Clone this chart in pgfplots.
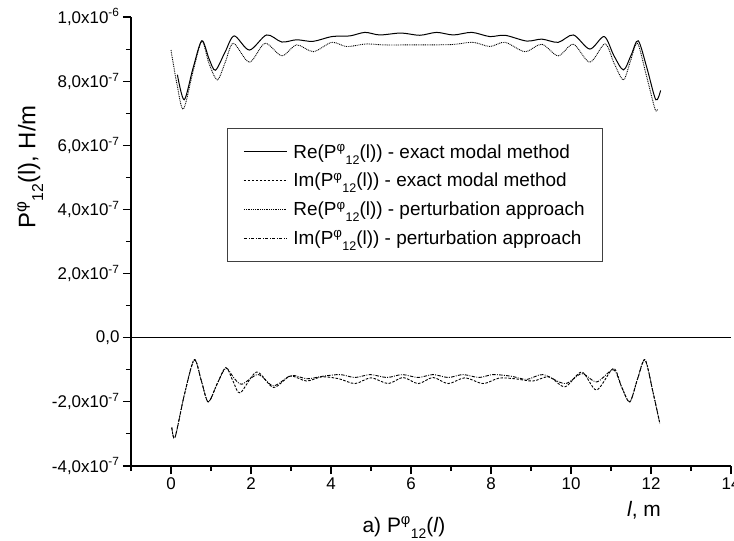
\documentclass[border=0pt]{standalone}
\usepackage{fontspec}
\setmainfont{Liberation Sans}
\usepackage{graphicx}
\usepackage{pgfplots}
\pgfplotsset{compat=1.18}
\newcommand{\Pphi}{P\textsuperscript{φ}\raisebox{-0.33em}{\scalebox{0.66}{12}}}
\begin{document}
\begin{tikzpicture}
\begin{axis}[
  scale only axis, width=600bp, height=449bp,
  xmin=-1, xmax=14, ymin=-4, ymax=10, clip=false,
  axis lines=left, axis line style={-, line width=1.1bp},
  tick align=outside, major tick length=8bp, minor tick length=5bp,
  every tick/.style={line width=1.1bp, black},
  xtick={0,2,...,14}, xticklabels={0,2,4,6,8,10,12,14},
  minor xtick={-1,1,...,13},
  ytick={-4,-2,...,10},
  yticklabels={{-4,0x10\textsuperscript{-7}},{-2,0x10\textsuperscript{-7}},{0,0},{2,0x10\textsuperscript{-7}},{4,0x10\textsuperscript{-7}},{6,0x10\textsuperscript{-7}},{8,0x10\textsuperscript{-7}},{1,0x10\textsuperscript{-6}}},
  minor ytick={-3,-1,...,9},
  ticklabel style={font=\fontsize{17}{17}\selectfont},
  ylabel={\Pphi(l), H/m},
  ylabel style={at={(axis description cs:-0.168,0.666)}, anchor=center, font=\fontsize{24}{24}\selectfont},
  xlabel={\textit{l}, m},
  xlabel style={at={(axis description cs:0.855,-0.098)}, anchor=center, font=\fontsize{21}{21}\selectfont},
  legend style={at={(axis description cs:0.16,0.753)}, anchor=north west, draw=black!75, line width=0.9bp,
    font=\fontsize{19}{19}\selectfont, inner xsep=16bp, inner ysep=14bp, row sep=9.5bp, cells={anchor=west}},
  legend image code/.code={\draw[#1] (0bp,0bp) -- (43bp,0bp); \path (47bp,0bp);},
  legend cell align=left,
]
\addplot[black, line width=1bp, smooth] coordinates {
(0.16,8.20)(0.33,7.42)(0.55,8.40)(0.77,9.26)(0.95,8.70)(1.11,8.34)(1.35,8.90)(1.58,9.41)(1.96,8.97)(2.39,9.44)(2.77,9.22)(3.14,9.29)(3.55,9.24)(4.02,9.39)(4.47,9.41)(4.85,9.52)(5.22,9.44)(5.75,9.50)(6.22,9.43)(6.64,9.52)(7.06,9.44)(7.52,9.52)(7.97,9.39)(8.35,9.43)(8.89,9.25)(9.27,9.31)(9.68,9.21)(10.06,9.44)(10.47,9.00)(10.83,9.39)(11.07,8.80)(11.31,8.35)(11.50,8.80)(11.68,9.26)(11.90,8.40)(12.12,7.42)(12.24,7.71)
};
\addlegendentry{Re(\Pphi(l)) - exact modal method}
\addplot[black, line width=0.9bp, dash pattern=on 2.5bp off 1.5bp, smooth] coordinates {
(0.02,-2.80)(0.10,-3.11)(0.33,-1.80)(0.58,-0.68)(0.76,-1.35)(0.93,-2.00)(1.15,-1.45)(1.37,-0.93)(1.55,-1.35)(1.73,-1.72)(2.14,-1.07)(2.56,-1.55)(2.98,-1.20)(3.39,-1.35)(3.77,-1.22)(4.2,-1.28)(4.6,-1.43)(5.0,-1.25)(5.43,-1.43)(5.8,-1.24)(6.18,-1.43)(6.55,-1.24)(6.93,-1.43)(7.35,-1.25)(7.8,-1.43)(8.2,-1.26)(8.6,-1.28)(9.05,-1.35)(9.45,-1.22)(9.85,-1.53)(10.27,-1.07)(10.64,-1.63)(11.06,-0.96)(11.27,-1.55)(11.47,-2.00)(11.66,-1.30)(11.85,-0.68)(12.05,-1.70)(12.22,-2.67)
};
\addlegendentry{Im(\Pphi(l)) - exact modal method}
\addplot[black, line width=0.9bp, dash pattern=on 0.9bp off 0.9bp, smooth] coordinates {
(0.00,8.97)(0.15,7.90)(0.31,7.13)(0.55,8.30)(0.77,9.24)(0.95,8.55)(1.16,8.04)(1.36,8.60)(1.56,9.18)(1.96,8.59)(2.35,9.18)(2.77,8.79)(3.14,9.13)(3.56,8.92)(4.02,9.21)(4.39,9.08)(4.89,9.16)(5.3,9.13)(6.0,9.13)(7.0,9.14)(7.55,9.21)(7.97,9.08)(8.35,9.21)(8.85,8.92)(9.27,9.15)(9.68,8.79)(10.06,9.15)(10.47,8.59)(10.85,9.16)(11.08,8.55)(11.31,8.04)(11.48,8.60)(11.66,9.18)(11.88,8.20)(12.10,7.13)(12.17,7.14)
};
\addlegendentry{Re(\Pphi(l)) - perturbation approach}
\addplot[black, line width=0.9bp, dash pattern=on 3.5bp off 1.3bp on 0.9bp off 1.3bp, smooth] coordinates {
(0.02,-2.80)(0.10,-3.11)(0.33,-1.80)(0.58,-0.70)(0.76,-1.35)(0.93,-2.00)(1.15,-1.45)(1.37,-0.95)(1.57,-1.25)(1.77,-1.45)(2.18,-1.15)(2.56,-1.50)(3.0,-1.18)(3.4,-1.28)(3.8,-1.20)(4.23,-1.15)(4.6,-1.24)(4.98,-1.15)(5.4,-1.24)(5.78,-1.15)(6.18,-1.24)(6.55,-1.15)(6.93,-1.24)(7.3,-1.15)(7.7,-1.24)(8.05,-1.15)(8.5,-1.20)(8.9,-1.30)(9.3,-1.15)(9.85,-1.43)(10.27,-1.12)(10.64,-1.38)(11.06,-1.00)(11.27,-1.55)(11.47,-2.00)(11.66,-1.30)(11.85,-0.70)(12.05,-1.70)(12.22,-2.67)
};
\addlegendentry{Im(\Pphi(l)) - perturbation approach}
\draw[line width=1.1bp] (axis cs:-1,0) -- (axis cs:14,0);
\node[font=\fontsize{21}{21}\selectfont, anchor=base] at (axis description cs:0.455,-0.147) {a) \Pphi(\textit{l})};
\coordinate (bl) at (rel axis cs:0,0);
\end{axis}
\pgfresetboundingbox
\path ([shift={(-131bp,-75bp)}]bl) rectangle ([shift={(603bp,466bp)}]bl);
\end{tikzpicture}
\end{document}
